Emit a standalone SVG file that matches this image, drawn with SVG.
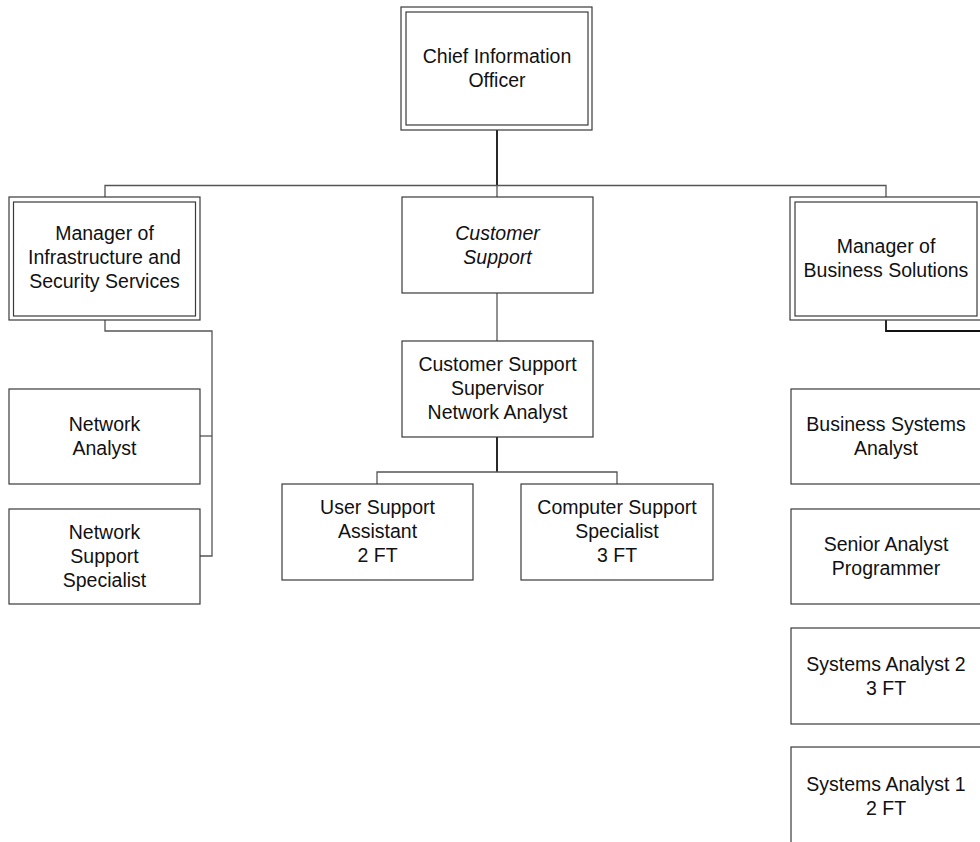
<svg xmlns="http://www.w3.org/2000/svg" width="980" height="842" viewBox="0 0 980 842">
  <style>
    .box { fill: #ffffff; stroke: #3a3a3a; stroke-width: 1.2; }
    .inner { fill: none; stroke: #3a3a3a; stroke-width: 1.2; }
    .lbl { font-family: "Liberation Sans", Arial, sans-serif; font-size: 19.5px; fill: #111111; text-anchor: middle; }
    .it { font-style: italic; }
    .ln { fill: none; stroke: #555555; stroke-width: 1.3; }
    .dk { fill: none; stroke: #111111; stroke-width: 1.8; }
  </style>
  <rect width="980" height="842" fill="#ffffff"/>

  <!-- connectors -->
  <g id="connectors">
    <path class="dk" d="M497 130 V185"/>
    <path class="ln" d="M105 197 V185.5 H886 V197"/>
    <path class="ln" d="M497 185 V197"/>
    <path class="ln" d="M105 320 V331 H212 V556 H200"/>
    <path class="ln" d="M200 436 H212"/>
    <path class="ln" d="M497 293 V341"/>
    <path class="dk" d="M497 437 V472"/>
    <path class="ln" d="M377 484 V472 H617 V484"/>
    <path class="dk" d="M886 320 V331 H980"/>
  </g>

  <!-- top level -->
  <g id="cio">
    <rect class="box" x="401" y="7" width="191" height="123"/>
    <rect class="inner" x="406" y="12" width="182" height="113"/>
    <text class="lbl" x="497" y="63">Chief Information</text>
    <text class="lbl" x="497" y="87">Officer</text>
  </g>

  <!-- managers -->
  <g id="mgr-infrastructure">
    <rect class="box" x="9" y="197" width="191" height="123"/>
    <rect class="inner" x="13.5" y="202" width="182" height="114"/>
    <text class="lbl" x="104.5" y="240">Manager of</text>
    <text class="lbl" x="104.5" y="264">Infrastructure and</text>
    <text class="lbl" x="104.5" y="288">Security Services</text>
  </g>

  <g id="customer-support">
    <rect class="box" x="402" y="197" width="191" height="96"/>
    <text class="lbl it" x="497.5" y="240">Customer</text>
    <text class="lbl it" x="497.5" y="264">Support</text>
  </g>

  <g id="mgr-business">
    <rect class="box" x="790" y="197" width="192" height="123"/>
    <rect class="inner" x="795" y="202" width="182" height="114"/>
    <text class="lbl" x="886" y="253">Manager of</text>
    <text class="lbl" x="886" y="277">Business Solutions</text>
  </g>

  <!-- infrastructure staff -->
  <g id="network-analyst">
    <rect class="box" x="9" y="389" width="191" height="95"/>
    <text class="lbl" x="104.5" y="431">Network</text>
    <text class="lbl" x="104.5" y="455">Analyst</text>
  </g>

  <g id="network-support-specialist">
    <rect class="box" x="9" y="509" width="191" height="95"/>
    <text class="lbl" x="104.5" y="539">Network</text>
    <text class="lbl" x="104.5" y="563">Support</text>
    <text class="lbl" x="104.5" y="587">Specialist</text>
  </g>

  <!-- customer support staff -->
  <g id="cs-supervisor">
    <rect class="box" x="402" y="341" width="191" height="96"/>
    <text class="lbl" x="497.5" y="371">Customer Support</text>
    <text class="lbl" x="497.5" y="395">Supervisor</text>
    <text class="lbl" x="497.5" y="419">Network Analyst</text>
  </g>

  <g id="user-support-assistant">
    <rect class="box" x="282" y="484" width="191" height="96"/>
    <text class="lbl" x="377.5" y="514">User Support</text>
    <text class="lbl" x="377.5" y="538">Assistant</text>
    <text class="lbl" x="377.5" y="562">2 FT</text>
  </g>

  <g id="computer-support-specialist">
    <rect class="box" x="521" y="484" width="192" height="96"/>
    <text class="lbl" x="617" y="514">Computer Support</text>
    <text class="lbl" x="617" y="538">Specialist</text>
    <text class="lbl" x="617" y="562">3 FT</text>
  </g>

  <!-- business solutions staff -->
  <g id="business-systems-analyst">
    <rect class="box" x="791" y="389" width="192" height="95"/>
    <text class="lbl" x="886" y="431">Business Systems</text>
    <text class="lbl" x="886" y="455">Analyst</text>
  </g>

  <g id="senior-analyst-programmer">
    <rect class="box" x="791" y="509" width="192" height="95"/>
    <text class="lbl" x="886" y="551">Senior Analyst</text>
    <text class="lbl" x="886" y="575">Programmer</text>
  </g>

  <g id="systems-analyst-2">
    <rect class="box" x="791" y="628" width="192" height="96"/>
    <text class="lbl" x="886" y="671">Systems Analyst 2</text>
    <text class="lbl" x="886" y="695">3 FT</text>
  </g>

  <g id="systems-analyst-1">
    <rect class="box" x="791" y="747" width="192" height="100"/>
    <text class="lbl" x="886" y="791">Systems Analyst 1</text>
    <text class="lbl" x="886" y="815">2 FT</text>
  </g>
</svg>
